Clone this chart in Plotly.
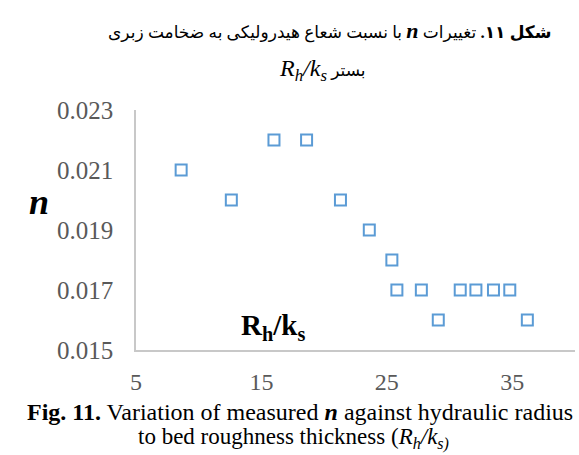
import plotly.graph_objects as go

# data
rh_ks = [8.6, 12.6, 16.0, 18.6, 21.3, 23.6, 25.4, 25.8, 27.75, 29.1, 30.85, 32.1, 33.5, 34.8, 36.2]
n_vals = [0.021, 0.020, 0.022, 0.022, 0.020, 0.019, 0.018, 0.017, 0.017, 0.016, 0.017, 0.017, 0.017, 0.017, 0.016]

x_ticks = [5, 15, 25, 35]
y_ticks = [0.015, 0.017, 0.019, 0.021, 0.023]
y_ticklabels = ["0.015", "0.017", "0.019", "0.021", "0.023"]

SERIF = "Liberation Serif, Times New Roman, DejaVu Sans, serif"
RLE, PDF = "\u202B", "\u202C"

fig = go.Figure()
fig.add_trace(go.Scatter(
    x=rh_ks, y=n_vals, mode="markers",
    marker=dict(symbol="square-open", size=11, color="#5b9bd5",
                line=dict(width=2, color="#5b9bd5")),
    showlegend=False, hoverinfo="skip"))

fig.update_xaxes(range=[5, 40], tickvals=x_ticks, ticktext=[str(v) for v in x_ticks],
                 showgrid=False, zeroline=False, showline=True, linecolor="#c8c8c8",
                 linewidth=1.5, ticks="", tickfont=dict(family=SERIF, size=24, color="#595959"),
                 ticklabelstandoff=9)
fig.update_yaxes(range=[0.015, 0.023], tickvals=y_ticks, ticktext=y_ticklabels,
                 showgrid=False, zeroline=False, showline=True, linecolor="#c8c8c8",
                 linewidth=1.5, ticks="", tickfont=dict(family=SERIF, size=25, color="#595959"),
                 ticklabelstandoff=16)

anns = [
    dict(text=RLE + "<b>شکل ۱۱.</b> تغییرات <b><i><span style='font-size:22px'>n</span></i></b> با نسبت شعاع هیدرولیکی به ضخامت زبری" + PDF,
         x=329, y=455 - 30, font=dict(family=SERIF, size=17, color="black")),
    dict(text=RLE + "بستر <i><span style='font-size:24px'>R<sub>h</sub>/k<sub>s</sub></span></i>" + PDF,
         x=322, y=455 - 70, font=dict(family=SERIF, size=17, color="black")),
    dict(text="<b><i>n</i></b>", x=39, y=455 - 202,
         font=dict(family=SERIF, size=36, color="black")),
    dict(text="<b>R<sub>h</sub>/k<sub>s</sub></b>", x=273, y=455 - 327,
         font=dict(family=SERIF, size=29, color="black")),
    dict(text="<b>Fig. 11.</b> Variation of measured <b><i>n</i></b> against hydraulic radius",
         x=300, y=455 - 412, font=dict(family=SERIF, size=24, color="black")),
    dict(text="to bed roughness thickness (<i>R<sub>h</sub>/k<sub>s)</sub></i>",
         x=293, y=455 - 438, font=dict(family=SERIF, size=23, color="black")),
]
for a in anns:
    fig.add_annotation(xref="paper", yref="paper", showarrow=False,
                       xanchor="center", yanchor="middle",
                       **{k: v for k, v in a.items() if k not in ("x", "y")},
                       x=(a["x"] - 136) / (575 - 136), y=(a["y"] - 105) / (345 - 105))

fig.update_layout(width=579, height=455,
                  margin=dict(l=136, r=4, t=110, b=105),
                  paper_bgcolor="white", plot_bgcolor="white")

fig.write_html("out.html")
